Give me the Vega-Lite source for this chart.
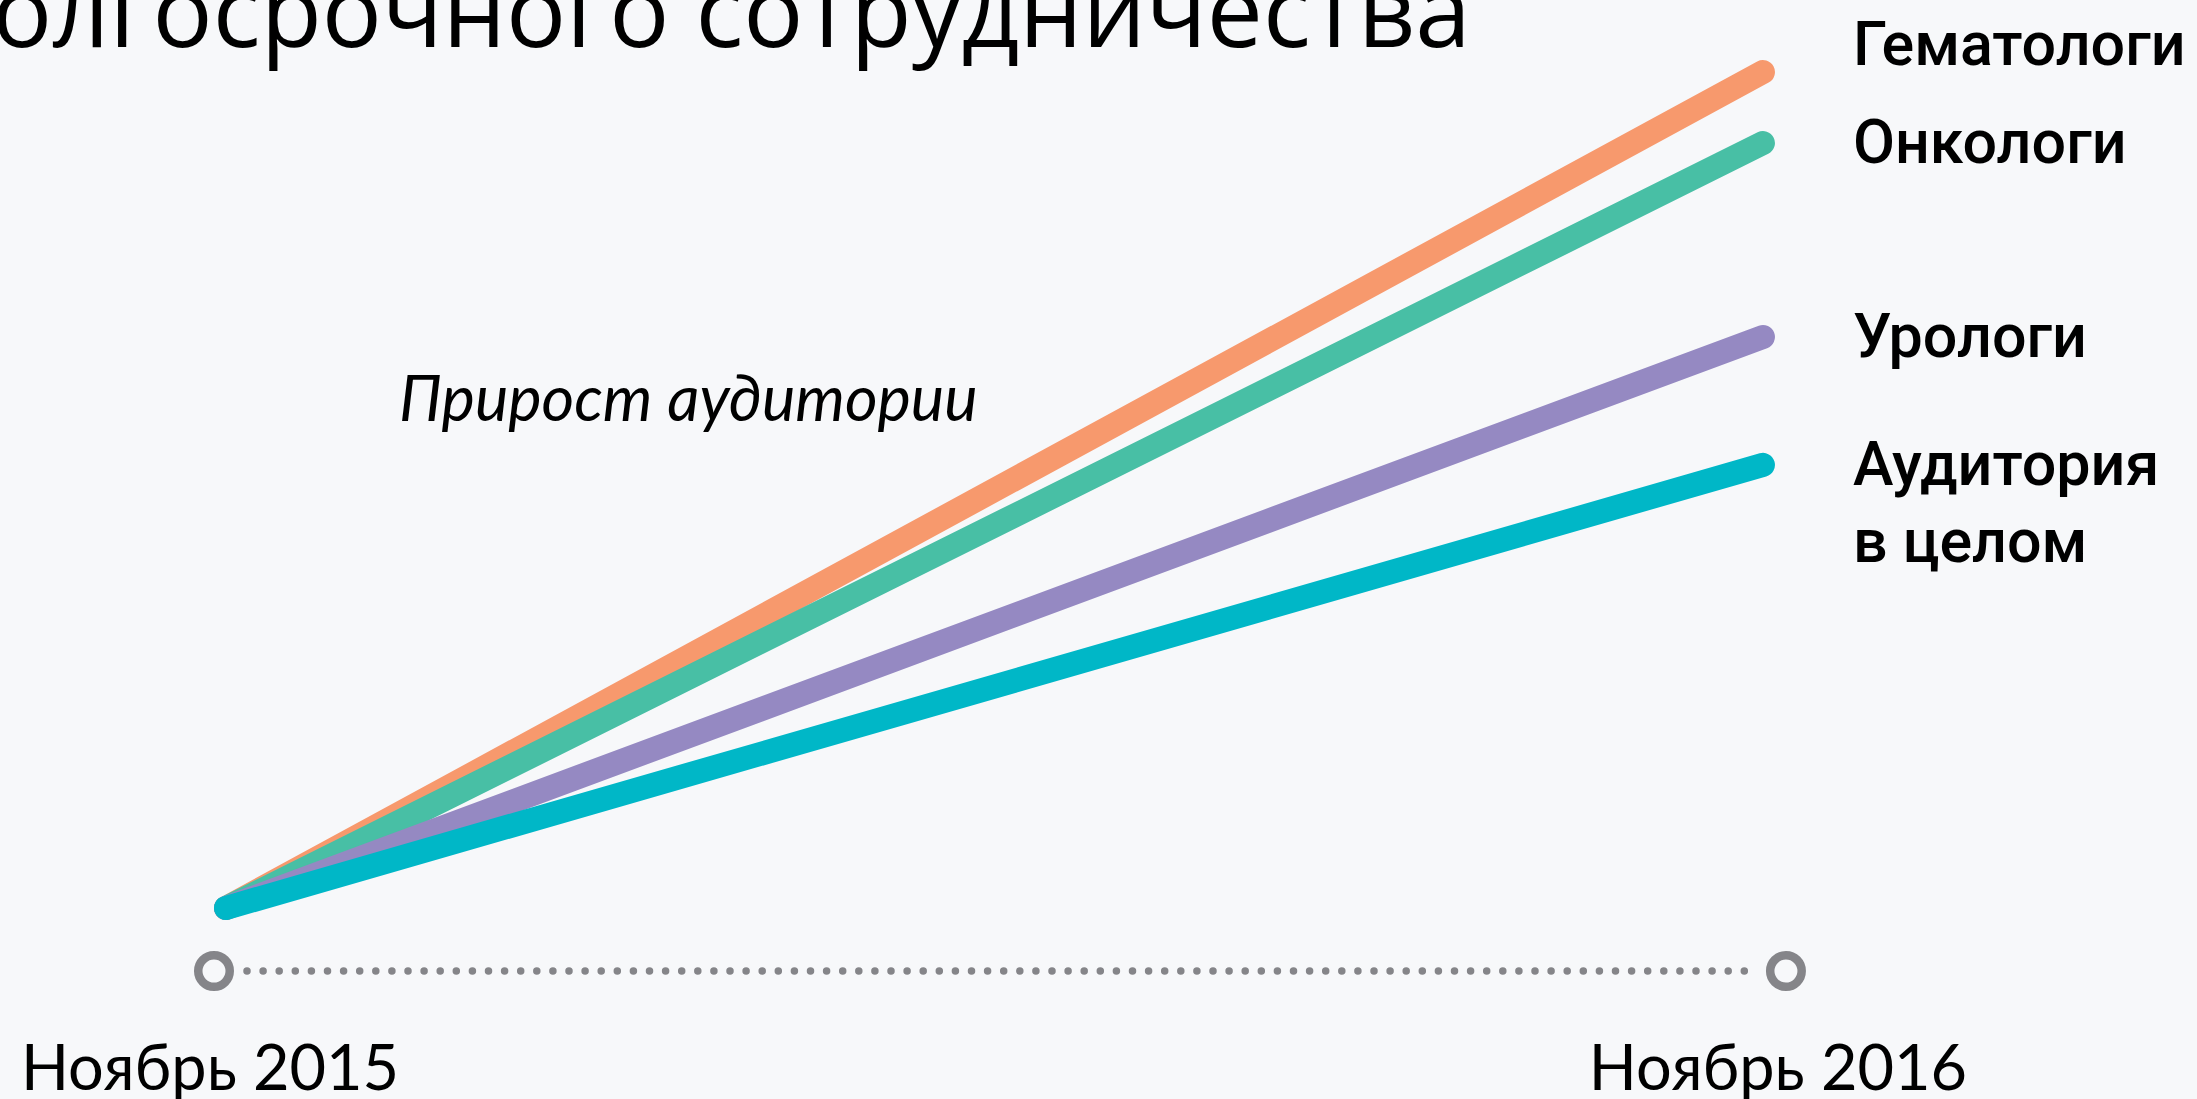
{
  "$schema": "https://vega.github.io/schema/vega-lite/v6.json",
  "width": 2197,
  "height": 1099,
  "autosize": {"type": "none"},
  "padding": 0,
  "background": "#F7F8FA",
  "config": {"view": {"stroke": null}},
  "datasets": {
    "lines": [
      {"group": "Гематологи", "month": 0, "value": 0},
      {"group": "Гематологи", "month": 12, "value": 100},
      {"group": "Онкологи", "month": 0, "value": 0},
      {"group": "Онкологи", "month": 12, "value": 91.5},
      {"group": "Урологи", "month": 0, "value": 0},
      {"group": "Урологи", "month": 12, "value": 68.3},
      {"group": "Аудитория\nв целом", "month": 0, "value": 0},
      {"group": "Аудитория\nв целом", "month": 12, "value": 53.0}
    ],
    "timeline": [
      {"month": 0, "label": "Ноябрь 2015"},
      {"month": 12, "label": "Ноябрь 2016"}
    ],
    "span": [{"start": 0, "end": 12}],
    "notes": [{"text": "Прирост аудитории", "month": 1.35, "value": 58.3}],
    "heading": [{"text": "долгосрочного сотрудничества", "month": 9.72, "value": 103}]
  },
  "layer": [
    {
      "data": {"name": "lines"},
      "mark": {"type": "line", "strokeWidth": 24, "strokeCap": "round", "strokeJoin": "round"},
      "encoding": {
        "x": {"field": "month", "type": "quantitative", "scale": {"domain": [-1.7645, 15.389], "nice": false, "zero": false}, "axis": null},
        "y": {"field": "value", "type": "quantitative", "scale": {"domain": [-22.85, 108.61], "nice": false, "zero": false}, "axis": null},
        "color": {"field": "group", "type": "nominal", "legend": null,
          "scale": {"domain": ["Гематологи", "Онкологи", "Урологи", "Аудитория\nв целом"], "range": ["#F7996D", "#48BFA5", "#9589C2", "#00B7C7"]}},
        "order": {"field": "month"}
      }
    },
    {
      "data": {"name": "lines"},
      "transform": [{"filter": "datum.month == 12 && datum.group != 'Гематологи'"}],
      "mark": {"type": "text", "align": "left", "baseline": "alphabetic", "dx": 90, "dy": 20, "font": "Roboto", "fontSize": 61, "fontWeight": 500, "color": "#000000", "lineBreak": "\n", "lineHeight": 77},
      "encoding": {
        "x": {"field": "month", "type": "quantitative"},
        "y": {"field": "value", "type": "quantitative"},
        "text": {"field": "group"}
      }
    },
    {
      "data": {"name": "lines"},
      "transform": [{"filter": "datum.month == 12 && datum.group == 'Гематологи'"}],
      "mark": {"type": "text", "align": "left", "baseline": "alphabetic", "dx": 90, "dy": -7, "font": "Roboto", "fontSize": 61, "fontWeight": 500, "color": "#000000"},
      "encoding": {
        "x": {"field": "month", "type": "quantitative"},
        "y": {"field": "value", "type": "quantitative"},
        "text": {"field": "group"}
      }
    },
    {
      "data": {"name": "span"},
      "mark": {"type": "rule", "strokeDash": [0.01, 16.09], "strokeCap": "round", "strokeWidth": 7.5, "color": "#858589", "xOffset": 21, "x2Offset": -15},
      "encoding": {
        "x": {"field": "start", "type": "quantitative"},
        "x2": {"field": "end"},
        "y": {"datum": -7.54, "type": "quantitative"}
      }
    },
    {
      "data": {"name": "timeline"},
      "transform": [{"filter": "datum.month == 0"}],
      "layer": [
        {
          "mark": {"type": "point", "shape": "circle", "filled": false, "size": 992, "strokeWidth": 8.5, "color": "#858589", "opacity": 1, "xOffset": -12},
          "encoding": {
            "x": {"field": "month", "type": "quantitative"},
            "y": {"datum": -7.54, "type": "quantitative"}
          }
        },
        {
          "mark": {"type": "text", "align": "center", "baseline": "alphabetic", "dx": -16, "dy": 119, "font": "Lato", "fontSize": 63, "color": "#000000"},
          "encoding": {
            "x": {"field": "month", "type": "quantitative"},
            "y": {"datum": -7.54, "type": "quantitative"},
            "text": {"field": "label"}
          }
        }
      ]
    },
    {
      "data": {"name": "timeline"},
      "transform": [{"filter": "datum.month == 12"}],
      "layer": [
        {
          "mark": {"type": "point", "shape": "circle", "filled": false, "size": 992, "strokeWidth": 8.5, "color": "#858589", "opacity": 1, "xOffset": 23},
          "encoding": {
            "x": {"field": "month", "type": "quantitative"},
            "y": {"datum": -7.54, "type": "quantitative"}
          }
        },
        {
          "mark": {"type": "text", "align": "center", "baseline": "alphabetic", "dx": 15, "dy": 119, "font": "Lato", "fontSize": 63, "color": "#000000"},
          "encoding": {
            "x": {"field": "month", "type": "quantitative"},
            "y": {"datum": -7.54, "type": "quantitative"},
            "text": {"field": "label"}
          }
        }
      ]
    },
    {
      "data": {"name": "notes"},
      "mark": {"type": "text", "align": "left", "baseline": "alphabetic", "font": "Lato", "fontStyle": "italic", "fontSize": 63, "color": "#000000"},
      "encoding": {
        "x": {"field": "month", "type": "quantitative"},
        "y": {"field": "value", "type": "quantitative"},
        "text": {"field": "text"}
      }
    },
    {
      "data": {"name": "heading"},
      "mark": {"type": "text", "align": "right", "baseline": "alphabetic", "font": "Open Sans", "fontSize": 100, "color": "#000000"},
      "encoding": {
        "x": {"field": "month", "type": "quantitative"},
        "y": {"field": "value", "type": "quantitative"},
        "text": {"field": "text"}
      }
    }
  ]
}
